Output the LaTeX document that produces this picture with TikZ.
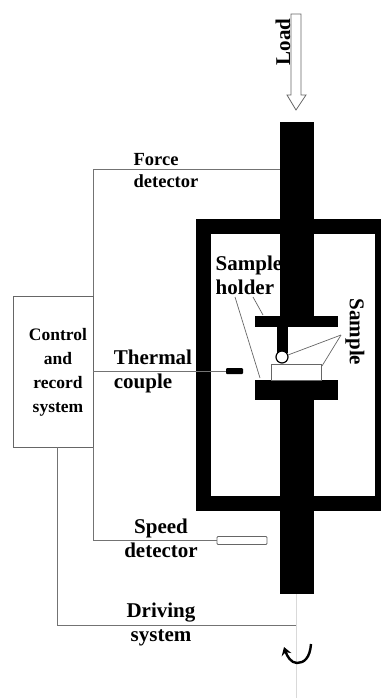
\documentclass[tikz,border=0pt]{standalone}
\usepackage{fontspec}
\setmainfont{Liberation Serif}
\usetikzlibrary{arrows.meta}
\tikzset{
	part/.style={fill=black, inner sep=0pt, outer sep=0pt},
	wire/.style={draw=black!55, line width=0.9pt},
	thin wire/.style={draw=black!60, line width=0.7pt},
	lbl/.style={font=\bfseries\fontsize{17.5}{24}\selectfont, align=center, inner sep=0pt},
	big lbl/.style={font=\bfseries\fontsize{21}{24}\selectfont, align=left, inner sep=0pt},
}
\begin{document}
\begin{tikzpicture}[x=1pt,y=-1pt]
	\useasboundingbox (0,0) rectangle (380,698);
	% labels first, the rod hides part of one
	\node[lbl, align=left, font=\bfseries\fontsize{18.5}{22}\selectfont] (force) at (166,171) {Force\\detector};
	\node[big lbl] (holder) at (249,275) {Sample\\holder};
	\node[big lbl, rotate=-90] (sample) at (355,332) {Sample};
	\node[big lbl, rotate=90] (load) at (283,42) {Load};
	\node[big lbl] (thermal) at (153,371) {Thermal\\couple};
	\node[big lbl, align=center] (speed) at (161,538) {Speed\\detector};
	\node[big lbl, align=center] (driving) at (161,624) {Driving\\system};
	% machine
	\node[draw=black, line width=15pt, inner sep=0pt, minimum width=179pt, minimum height=277pt] (frame) at (293,364.5) {};
	\node[part, minimum width=34pt, minimum height=194pt] (rodtop) at (297,219) {};
	\node[part, minimum width=34pt, minimum height=194pt] (rodlow) at (297,497) {};
	\node[part, minimum width=83pt, minimum height=11pt] (upper) at (296.5,321.5) {};
	\node[part, minimum width=83pt, minimum height=20pt] (lower) at (296.5,390) {};
	\node[part, minimum width=11pt, minimum height=26pt] (stem) at (282.5,340) {};
	\node[draw=black!60, line width=0.8pt, fill=white, inner sep=0pt, minimum width=50pt, minimum height=16pt] (spec) at (296,372) {};
	\node[draw=black, line width=1.2pt, fill=white, circle, inner sep=0pt, minimum size=12pt] (ball) at (282,357) {};
	% box and detectors
	\node[draw=black!60, line width=0.8pt, inner sep=0pt, minimum width=80pt, minimum height=151pt] (ctrl) at (53,371.5) {};
	\node[lbl] (ctrltext) at (58,372) {Control\\and\\record\\system};
	\node[part, rounded corners=1pt, minimum width=17pt, minimum height=6pt] (couple) at (234.5,371) {};
	\node[draw=black!60, line width=0.8pt, rounded corners=1pt, inner sep=0pt, minimum width=50pt, minimum height=8pt] (speeddet) at (242,540.5) {};
	% wires
	\coordinate (a1) at (93,169);
	\coordinate (a2) at (93,540.5);
	\coordinate (a3) at (57,625);
	\coordinate (a4) at (57,447);
	\coordinate (a5) at (93,296);
	\coordinate (a6) at (93,447);
	\coordinate (e1) at (280,169);
	\coordinate (e2) at (296,625);
	\coordinate (e3) at (93,371);
	\draw[wire] (a5) -- (a1) -- (e1);
	\draw[wire] (e3) -- (couple.west);
	\draw[wire] (a6) -- (a2) -- (speeddet.west);
	\draw[wire] (a4) -- (a3) -- (e2);
	% axis
	\coordinate (axtop) at (296,594);
	\coordinate (axlow) at (296,698);
	\draw[draw=black!15, line width=0.7pt] (axtop) -- (axlow);
	% leaders
	\coordinate (h1) at (253,297);
	\coordinate (h2) at (263,315);
	\coordinate (h3) at (235,297);
	\coordinate (h4) at (260,378);
	\coordinate (s0) at (341,335);
	\coordinate (s1) at (288,355);
	\coordinate (s2) at (322,366);
	\draw[thin wire] (h1) -- (h2);
	\draw[thin wire] (h3) -- (h4);
	\draw[thin wire] (s0) -- (s1);
	\draw[thin wire] (s0) -- (s2);
	% load arrow
	\draw[draw=black!60, line width=0.8pt, fill=white] (291,14) -- (301,14) -- (301,95) -- (306,95) -- (296,110) -- (287,95) -- (291,95) -- cycle;
	% rotation
	\draw[line width=2.4pt, -{Stealth[length=8pt,width=10pt]}] (311,644) .. controls (310,658) and (304,663) .. (297,663) .. controls (291,663) and (287,656) .. (284,647);
\end{tikzpicture}
\end{document}
